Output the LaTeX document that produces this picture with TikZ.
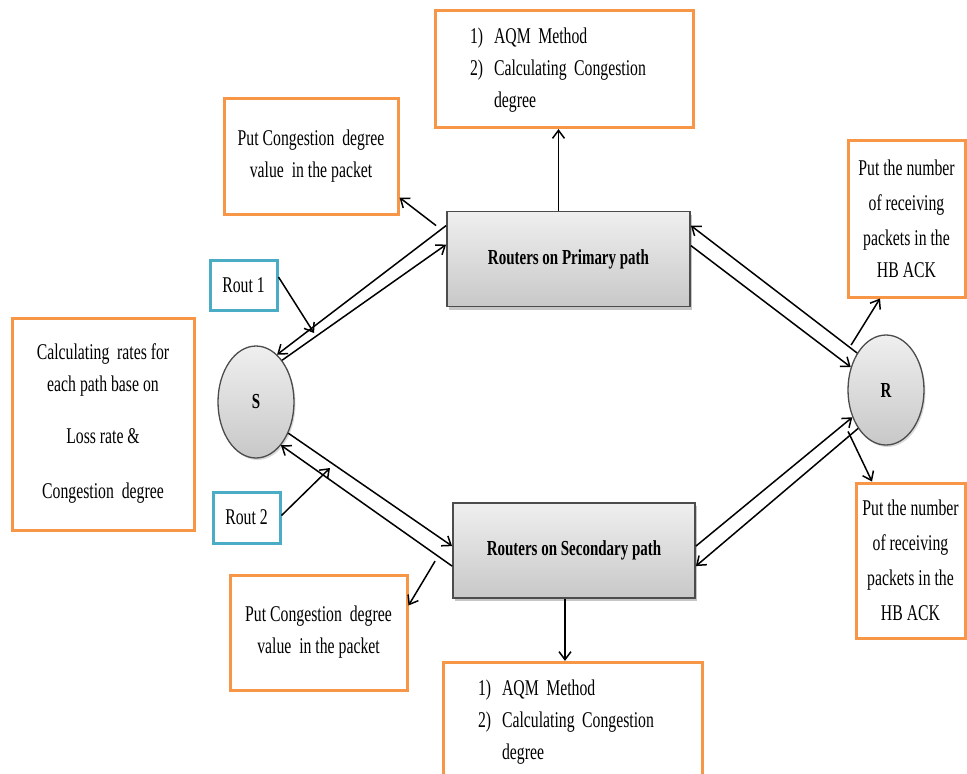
\documentclass[tikz,border=0pt]{standalone}
\usepackage{fontspec}
\usepackage{tikz}
\usetikzlibrary{positioning, shapes.geometric, arrows.meta, shadows}
\newfontfamily\narrowserif[FakeStretch=0.70]{Liberation Serif}
\newcommand\lblfont{\narrowserif\fontsize{22.5}{32}\selectfont}
\newcommand\lblbold{\narrowserif\bfseries\fontsize{21.4}{30}\selectfont}
\definecolor{boxorange}{HTML}{F79646}
\definecolor{boxblue}{HTML}{4BACC6}
\definecolor{shadetop}{HTML}{EFEFEF}
\definecolor{shadebot}{HTML}{C8C8C8}

\tikzset{
	orangebox/.style={draw=boxorange, line width=3pt, inner sep=0pt, align=center, font=\lblfont},
	bluebox/.style={draw=boxblue, line width=3pt, inner sep=0pt, font=\lblfont},
	routerbox/.style={draw=black!70, line width=1.8pt, inner sep=0pt, top color=shadetop, bottom color=shadebot,
		drop shadow={shadow xshift=2pt, shadow yshift=-3pt, opacity=0.45}, font=\lblbold},
	endpoint/.style={ellipse, draw=black!70, line width=1.3pt, inner sep=0pt, top color=shadetop, bottom color=shadebot,
		drop shadow={shadow xshift=1.5pt, shadow yshift=-2pt, opacity=0.3}, font=\lblbold},
	arr/.style={-{Straight Barb[length=8pt,width=12pt]}, line width=1.5pt},
}

\begin{document}
\begin{tikzpicture}[x=1pt, y=-1pt]
	\useasboundingbox (0,0) rectangle (967,774);

	\node[routerbox, minimum width=243pt, minimum height=95pt] (prim) at (568.5,259) {Routers on Primary path};
	\node[routerbox, minimum width=242pt, minimum height=95pt] (sec) at (574,550.5) {Routers on Secondary path};
	\node[endpoint, minimum width=76pt, minimum height=112pt] (S) at (256,402) {S};
	\node[endpoint, minimum width=76pt, minimum height=110pt] (R) at (886,390) {R};

	\node[orangebox, minimum height=117pt, text width=188pt, inner xsep=35pt, align=left,
		above=81.5pt of prim, xshift=-4.5pt] (aqmtop) {%
		\begin{tabular}{@{}l@{\hspace{11pt}}l@{}}1) & AQM Method\\ 2) & Calculating Congestion\\ & degree\end{tabular}};
	\node[orangebox, minimum height=117pt, text width=189pt, inner xsep=35pt, align=left,
		below=62pt of sec, xshift=-1.5pt] (aqmbot) {%
		\begin{tabular}{@{}l@{\hspace{11pt}}l@{}}1) & AQM Method\\ 2) & Calculating Congestion\\ & degree\end{tabular}};

	\node[orangebox, minimum width=174pt, minimum height=116pt] (putA) at (311,156) {Put Congestion~ degree\\ value~ in the packet};
	\node[orangebox, minimum width=177pt, minimum height=115pt] (putB) at (318.5,632.5) {Put Congestion~ degree\\ value~ in the packet};
	\node[orangebox, minimum width=182pt, minimum height=212pt] (calc) at (103,424) {Calculating\, rates for\\ each path base on\\[20pt] Loss rate \&\\[23pt] Congestion~ degree};
	\node[orangebox, minimum width=117pt, minimum height=157pt] (rtop) at (906.5,218.5) {Put the number\\[3pt] of receiving\\[3pt] packets in the\\[0pt] HB ACK};
	\node[orangebox, minimum width=109pt, minimum height=155pt] (rbot) at (910.5,560.5) {Put the number\\[3pt] of receiving\\[3pt] packets in the\\[3pt] HB ACK};

	\node[bluebox, minimum width=67pt, minimum height=50pt] (rout1) at (243.5,285) {Rout 1};
	\node[bluebox, minimum width=67pt, minimum height=51pt] (rout2) at (246.5,517.5) {Rout 2};

	\coordinate (tip1) at (314,333);
	\coordinate (tip2) at (330,468);

	\draw[arr] ([yshift=-15pt]prim.north west) -- (S.66);
	\draw[arr] (S.58) -- ([yshift=-34pt]prim.north west);
	\draw[arr] (S.-44) -- ([yshift=-44pt]sec.north west);
	\draw[arr] ([yshift=-64pt]sec.north west) -- (S.-60);
	\draw[arr] (R.128) -- ([yshift=-15pt]prim.north east);
	\draw[arr] ([yshift=-35pt]prim.north east) -- (R.147);
	\draw[arr] ([yshift=-44pt]sec.north east) -- (R.-141);
	\draw[arr] (R.-126) -- ([yshift=-64pt]sec.north east);

	\draw[arr] ([xshift=-10pt]prim.north) -- ([xshift=-10pt]prim.north |- aqmtop.south);
	\draw[arr] ([xshift=-9pt]sec.south) -- ([xshift=-9pt]sec.south |- aqmbot.north);
	\draw[arr] ([xshift=-10pt,yshift=-15pt]prim.north west) -- ([yshift=18pt]putA.south east);
	\draw[arr] ([xshift=-17pt,yshift=-59pt]sec.north west) -- ([yshift=-32pt]putB.north east);
	\draw[arr] ([yshift=8pt]rout1.east) -- (tip1);
	\draw[arr] ([yshift=2pt]rout2.east) -- (tip2);
	\draw[arr] ([shift={(-6pt,8pt)}]R.128) -- ([xshift=-26.5pt]rtop.south);
	\draw[arr] ([shift={(-10pt,-3pt)}]R.-126) -- ([xshift=-38.5pt]rbot.north);
\end{tikzpicture}
\end{document}
